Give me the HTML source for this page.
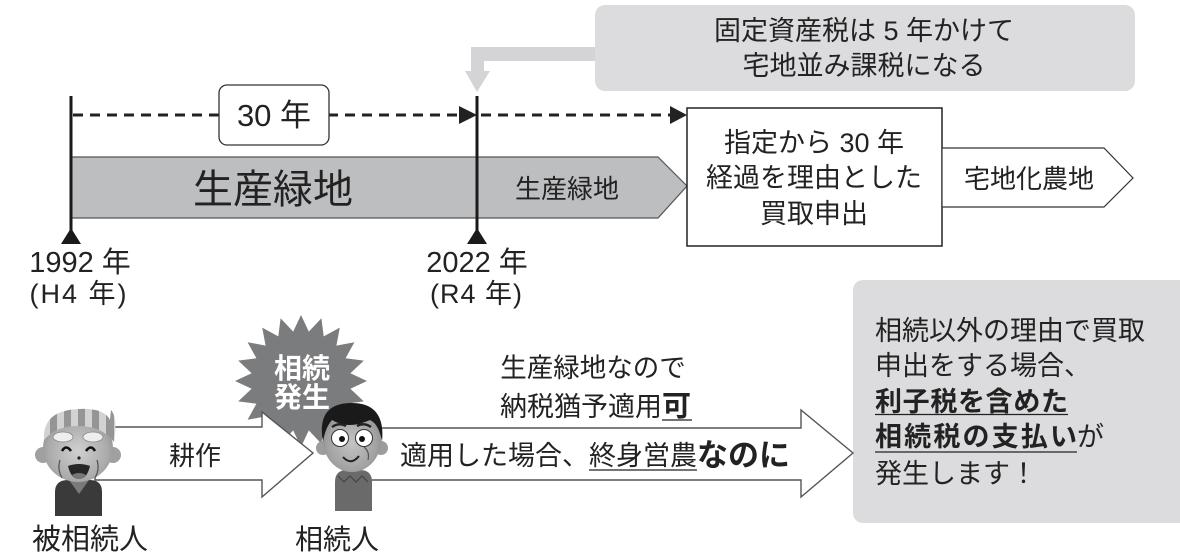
<!DOCTYPE html>
<html>
<head>
<meta charset="utf-8">
<style>
html,body{margin:0;padding:0;background:#fff;}
svg{display:block;}
text{font-family:"Liberation Sans","Noto Sans CJK JP",sans-serif;fill:#222;}
.b{font-weight:bold;}
</style>
</head>
<body>
<svg width="1180" height="556" viewBox="0 0 1180 556" xmlns="http://www.w3.org/2000/svg">
<defs>
  <radialGradient id="faceOld" cx="0.5" cy="0.55" r="0.6">
    <stop offset="0" stop-color="#d0d0d0"/>
    <stop offset="0.7" stop-color="#ababab"/>
    <stop offset="1" stop-color="#8c8c8c"/>
  </radialGradient>
  <radialGradient id="faceYoung" cx="0.5" cy="0.55" r="0.6">
    <stop offset="0" stop-color="#c4c4c4"/>
    <stop offset="0.7" stop-color="#a2a2a2"/>
    <stop offset="1" stop-color="#858585"/>
  </radialGradient>
  <clipPath id="capClip">
    <path d="M44,440 Q42,410 80,409 Q104,408 110,420 L111,410 Q118,418 114,442 Q102,426 78,426 Q56,426 44,440 Z"/>
  </clipPath>
</defs>

<!-- ===== Top gray note box + connector ===== -->
<rect x="595" y="5" width="540" height="86" rx="10" fill="#dcdcde"/>
<polygon points="595,47 471,47 471,71 465,71 477,92 490,71 484,71 484,61 595,61" fill="#d4d4d6"/>
<text x="864" y="40" font-size="27" text-anchor="middle">固定資産税は 5 年かけて</text>
<text x="864" y="75" font-size="27" text-anchor="middle">宅地並み課税になる</text>

<!-- ===== Gray band (生産緑地) ===== -->
<polygon points="71,157 658,157 687,186 658,218 71,218" fill="#bdbec0" stroke="#555" stroke-width="1.2"/>
<text x="273" y="203" font-size="40" text-anchor="middle">生産緑地</text>
<text x="515" y="198" font-size="26">生産緑地</text>

<!-- ===== Dashed timeline ===== -->
<line x1="73" y1="115" x2="672" y2="115" stroke="#222" stroke-width="3" stroke-dasharray="10,7"/>
<polygon points="477,115 459,106 459,124" fill="#222"/>
<polygon points="687,115 670,106 670,124" fill="#222"/>

<!-- 30年 box -->
<rect x="219" y="85" width="110" height="60" rx="8" fill="#fff" stroke="#333" stroke-width="1.3"/>
<text x="274" y="126" font-size="31" text-anchor="middle">30 年</text>

<!-- vertical lines -->
<line x1="71" y1="96" x2="71" y2="232" stroke="#1a1a1a" stroke-width="3"/>
<line x1="477" y1="96" x2="477" y2="232" stroke="#1a1a1a" stroke-width="3"/>
<polygon points="71,228 61,244 81,244" fill="#1a1a1a"/>
<polygon points="477,228 467,244 487,244" fill="#1a1a1a"/>

<text x="80" y="272" font-size="29" text-anchor="middle">1992 年</text>
<text x="78" y="303" font-size="27" text-anchor="middle" textLength="97" lengthAdjust="spacing">(H4 年)</text>
<text x="477" y="272" font-size="29" text-anchor="middle">2022 年</text>
<text x="476" y="303" font-size="27" text-anchor="middle" textLength="92" lengthAdjust="spacing">(R4 年)</text>

<!-- ===== Right box 指定から ===== -->
<rect x="687" y="108" width="255" height="138" fill="#fff" stroke="#222" stroke-width="1.5"/>
<text x="814" y="152" font-size="27" text-anchor="middle">指定から 30 年</text>
<text x="814" y="187" font-size="27" text-anchor="middle">経過を理由とした</text>
<text x="814" y="223" font-size="27" text-anchor="middle">買取申出</text>

<!-- 宅地化農地 pentagon -->
<polygon points="942,148 1104,148 1133,178 1104,207 942,207" fill="#fff" stroke="#333" stroke-width="1.2"/>
<text x="1029" y="188" font-size="26" text-anchor="middle">宅地化農地</text>

<!-- ===== Bottom right gray box ===== -->
<rect x="853" y="280" width="340" height="243" rx="10" fill="#dcdcde"/>
<text x="875" y="340" font-size="27">相続以外の理由で買取</text>
<text x="875" y="375" font-size="27">申出をする場合、</text>
<text x="875" y="411" font-size="27" class="b" textLength="193" lengthAdjust="spacing">利子税を含めた</text>
<line x1="875" y1="414.5" x2="1068" y2="414.5" stroke="#222" stroke-width="1.3"/>
<text x="875" y="446" font-size="27" class="b" textLength="202" lengthAdjust="spacing">相続税の支払い</text>
<text x="1077" y="446" font-size="27">が</text>
<line x1="875" y1="452" x2="1077" y2="452" stroke="#222" stroke-width="1.3"/>
<text x="875" y="483" font-size="27">発生します！</text>

<!-- ===== Starburst ===== -->
<polygon fill="#7b7c7e" points="
367,381 350.4,388.8 363.8,401.4 345.6,403.7 354.4,419.8 336.4,416.4 339.8,434.4 323.7,425.6 321.4,443.8 308.8,430.4
301,447 293.2,430.4 280.6,443.8 278.3,425.6 262.2,434.4 265.6,416.4 247.6,419.8 256.4,403.7 238.2,401.4 251.6,388.8
235,381 251.6,373.2 238.2,360.6 256.4,358.3 247.6,342.2 265.6,345.6 262.2,327.6 278.3,336.4 280.6,318.2 293.2,331.6
301,315 308.8,331.6 321.4,318.2 323.7,336.4 339.8,327.6 336.4,345.6 354.4,342.2 345.6,358.3 363.8,360.6 350.4,373.2"/>
<text x="302" y="378" font-size="28" class="b" text-anchor="middle" style="fill:#fff">相続</text>
<text x="302" y="407" font-size="28" class="b" text-anchor="middle" style="fill:#fff">発生</text>

<!-- ===== Arrows ===== -->
<polygon points="95,427 262,427 262,412 313,453 262,497 262,480 95,480" fill="#fff" stroke="#555" stroke-width="1.4"/>
<text x="195" y="465" font-size="26" text-anchor="middle">耕作</text>

<polygon points="360,428 801,428 801,410 853,453 801,497 801,480 360,480" fill="#fff" stroke="#555" stroke-width="1.4"/>

<text x="593" y="377" font-size="26.5" text-anchor="middle">生産緑地なので</text>
<text x="500" y="416" font-size="27">納税猶予適用</text>
<text x="662" y="416" font-size="29" class="b">可</text>
<line x1="662" y1="420" x2="692" y2="420" stroke="#222" stroke-width="1.3"/>

<text x="400" y="465" font-size="27">適用した場合、</text>
<text x="589" y="465" font-size="27">終身営農</text>
<line x1="589" y1="470" x2="697" y2="470" stroke="#222" stroke-width="1.3"/>
<text x="697" y="466" font-size="31" class="b">なのに</text>

<!-- ===== Old man (被相続人) ===== -->
<g>
  <path d="M55,516 L55,492 Q55,480 68,480 L90,480 Q102,480 102,492 L102,516 Z" fill="#3a3a3a"/>
  <path d="M69,480 L79,494 L89,480 Z" fill="#7a7a7a"/>
  <circle cx="43" cy="455" r="8" fill="#a0a0a0"/>
  <circle cx="113" cy="455" r="8" fill="#a0a0a0"/>
  <ellipse cx="78" cy="448" rx="35" ry="34" fill="url(#faceOld)"/>
  <g clip-path="url(#capClip)">
    <rect x="40" y="405" width="80" height="45" fill="#d2d2d2"/>
    <rect x="50" y="405" width="7" height="45" fill="#959595"/>
    <rect x="64" y="405" width="7" height="45" fill="#959595"/>
    <rect x="78" y="405" width="7" height="45" fill="#959595"/>
    <rect x="92" y="405" width="7" height="45" fill="#959595"/>
    <rect x="106" y="405" width="8" height="45" fill="#959595"/>
  </g>
  <ellipse cx="63" cy="437" rx="10" ry="5" fill="#eee" stroke="#888" stroke-width="0.8"/>
  <ellipse cx="93" cy="437" rx="10" ry="5" fill="#eee" stroke="#888" stroke-width="0.8"/>
  <path d="M62,451 Q66,444 71,451" stroke="#111" stroke-width="2.6" fill="none"/>
  <path d="M86,451 Q91,444 95,451" stroke="#111" stroke-width="2.6" fill="none"/>
  <circle cx="79" cy="458" r="1.6" fill="#222"/>
  <path d="M68,466 Q79,462 90,466 Q87,479 79,479 Q71,479 68,466 Z" fill="#262626"/>
  <path d="M72,475 Q79,471 86,475 Q83,479 79,479 Q75,479 72,475 Z" fill="#777"/>
  <path d="M60,460 Q57,469 62,478" stroke="#555" stroke-width="1.2" fill="none"/>
  <path d="M97,460 Q100,469 95,478" stroke="#555" stroke-width="1.2" fill="none"/>
</g>
<text x="90" y="549" font-size="29" text-anchor="middle">被相続人</text>

<!-- ===== Young man (相続人) ===== -->
<g>
  <path d="M335,511 L335,482 Q335,470 347,470 L360,470 Q372,470 372,482 L372,511 Z" fill="#6a6a6a"/>
  <path d="M338,476 L344,482 L350,476 L356,482 L362,476 L368,482" stroke="#444" stroke-width="1.2" fill="none"/>
  <circle cx="323" cy="448" r="7" fill="#9c9c9c"/>
  <circle cx="381" cy="448" r="7" fill="#9c9c9c"/>
  <ellipse cx="352" cy="440" rx="29" ry="32" fill="url(#faceYoung)"/>
  <path d="M323,442 Q316,404 350,403 Q386,402 382,442 Q379,424 370,420 Q348,430 332,420 Q325,428 323,442 Z" fill="#1a1a1a"/>
  <path d="M332,427 Q339,422 346,426" stroke="#222" stroke-width="2.4" fill="none"/>
  <path d="M357,426 Q364,422 371,427" stroke="#222" stroke-width="2.4" fill="none"/>
  <circle cx="340" cy="438" r="8.5" fill="#fff" stroke="#333" stroke-width="1"/>
  <circle cx="364" cy="438" r="8.5" fill="#fff" stroke="#333" stroke-width="1"/>
  <circle cx="342" cy="439" r="3" fill="#111"/>
  <circle cx="362" cy="439" r="3" fill="#111"/>
  <path d="M343,457 Q351,466 359,456" stroke="#222" stroke-width="2" fill="none"/>
  <path d="M364,447 Q370,452 368,460" stroke="#555" stroke-width="1.2" fill="none"/>
</g>
<text x="337" y="549" font-size="28" text-anchor="middle">相続人</text>

</svg>
</body>
</html>
